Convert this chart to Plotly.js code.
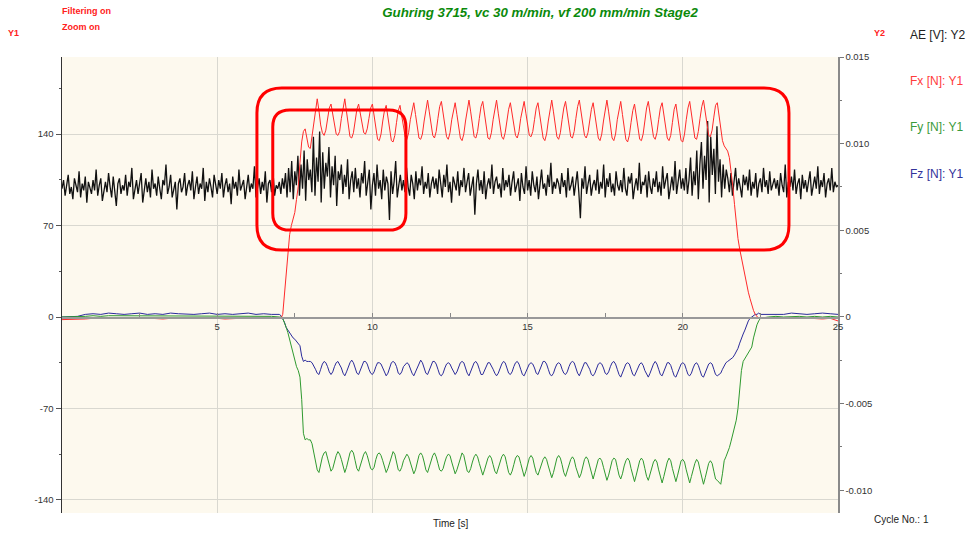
<!DOCTYPE html>
<html><head><meta charset="utf-8">
<script src="https://cdn.plot.ly/plotly-3.0.1.min.js"></script>
<style>html,body{margin:0;padding:0;background:#fff;}#chart{width:972px;height:534px;}</style>
</head><body><div id="chart"></div>
<script>
const titleText = 'Guhring 3715, vc 30 m/min, vf 200 mm/min Stage2';
const seriesNames = ['AE [V]: Y2', 'Fx [N]: Y1', 'Fy [N]: Y1', 'Fz [N]: Y1'];
const seriesColors = ['#111111', '#ff2a2a', '#2f9a2f', '#2b2b9b'];
const xTickVals = [5, 10, 15, 20, 25];
const xTickText = ['5', '10', '15', '20', '25'];
const y1TickVals = [-140, -70, 0, 70, 140];
const y1TickText = ['-140', '-70', '0', '70', '140'];
const y2TickVals = [-0.010, -0.005, 0, 0.005, 0.010, 0.015];
const y2TickText = ['-0.010', '-0.005', '0', '0.005', '0.010', '0.015'];

// sampling of the recorded signals (seconds)
const aeStep = 0.05;
const forceBaseStep = 0.25;
const forceActiveStart = 7.0;
const forceActiveStep = 1 / 18;
const forceTailStart = 22.75;

// AE signal, in units of 0.1 mV (1e-4 V), one value every 0.05 s
const aeTenthMv = [
74,79,70,77,82,71,75,68,80,76,72,84,69,77,73,81,66,78,75,71,
79,73,85,70,76,80,67,74,78,72,83,75,69,81,74,64,77,80,71,76,
73,82,70,78,75,86,68,74,79,71,77,83,66,75,80,72,78,69,85,74,
77,70,81,74,68,79,76,88,71,75,82,69,73,78,62,77,80,72,75,83,
70,76,79,73,84,68,75,81,71,77,74,86,67,78,72,80,75,69,82,76,
71,79,74,83,69,76,80,72,77,65,81,74,78,70,85,73,76,79,68,75,
82,72,77,74,87,69,76,80,71,78,73,84,66,77,79,72,83,70,76,74,
78,71,80,74,83,69,86,72,90,68,84,76,93,70,88,74,96,67,91,79,
85,72,104,70,92,78,107,66,95,74,89,81,98,69,87,76,93,64,84,79,
88,71,82,75,91,68,79,84,72,86,74,80,69,83,77,90,70,78,85,62,
76,83,70,88,74,79,68,85,73,81,77,56,84,71,78,90,69,76,82,73,
79,72,86,75,70,82,77,68,84,73,80,76,87,71,78,74,83,69,77,81,
74,80,71,85,77,69,82,75,88,72,78,66,81,76,73,84,70,79,75,86,
72,78,83,70,76,81,59,77,85,73,79,71,84,68,76,80,74,88,71,78,
81,74,77,69,86,73,79,75,82,70,78,84,72,76,80,67,83,75,71,87,
73,79,70,84,76,72,81,68,78,85,74,77,70,82,75,89,71,78,74,80,
77,71,83,75,79,69,86,73,76,81,70,78,84,72,57,80,74,87,71,77,
82,70,76,79,73,85,71,78,74,88,69,80,75,83,72,77,70,84,76,73,
79,72,86,74,70,81,77,83,68,75,80,73,89,71,78,76,82,69,84,75,
71,80,75,84,72,78,70,87,74,79,83,68,76,81,73,90,71,77,85,74,
80,73,86,71,79,92,70,84,76,96,68,88,101,74,93,79,113,66,104,82,
97,71,110,78,91,69,88,74,85,80,72,83,70,78,86,73,80,75,69,82,
76,81,73,85,70,78,74,83,69,77,80,72,86,75,79,71,84,73,77,80,
74,79,70,83,76,72,88,69,78,75,81,73,85,71,77,80,68,82,74,79,
72,78,84,70,76,81,74,87,71,79,75,83,69,77,80,73,86,72,78,75,
76
];

// Forces [N] before cutting (every 0.25 s from 0 s)
const fxBase = [-2,-2,-2,-1.5,-1,-1,-1.5,-1,-1,-1,-0.5,-1,-1,-1.5,-1,-1,-1,-0.5,-1,-1,-1,-1.5,-1,-1,-1,-0.5,-1,-1];
const fyBase = [0,0,0,0.5,1,0.5,1,1,0.5,1,1,1,0.5,1,1,1,0.5,1,1,1,1,0.5,1,1,1,0.5,1,0.5];
const fzBase = [0,0,0.5,2,2.5,2,3,2.5,2,2.5,3,2,2.5,2,3,2.5,2,2,2.5,3,2,2.5,2,2.5,3,2,2.5,2];

// Forces [N] during cutting (every 1/18 s from 7 s)
const fxActive = [
-1,-1,2,18,35,50,63,70,76,80,90,100,118,134,142,144,137,130,129,138,150,160,
167,158,147,141,139,143,151,160,
163,155,146,140,139,142,152,161,
167,157,145,138,137,141,150,159,
163,156,147,141,140,144,152,160,
163,154,143,136,135,140,150,158,
162,153,142,135,134,139,149,158,
162,154,145,138,136,141,151,159,
164,155,144,137,136,140,150,160,
166,157,146,139,137,142,152,161,
165,156,145,138,136,141,151,159,
164,155,144,137,135,140,150,160,
166,157,146,138,137,142,152,161,
165,155,144,137,136,141,151,160,
166,156,145,138,136,141,150,159,
164,155,145,139,137,142,152,160,
165,156,146,139,138,142,151,160,
164,154,143,137,135,140,150,159,
166,157,146,138,136,141,151,160,
165,156,145,138,137,142,152,161,
166,157,146,139,137,141,150,159,
164,155,144,137,135,140,150,160,
166,157,145,137,135,140,151,160,
165,155,144,136,134,139,149,158,
163,154,143,136,135,140,150,160,
165,156,145,138,136,141,151,160,
164,155,144,137,135,139,149,159,
163,153,142,135,134,140,151,160,
165,155,144,137,136,142,152,161,
166,156,146,139,138,143,153,162,
164,155,145,135,131,129,127,122,112,100,86,72,60,52,45,38,31,25,19,14,9,5,2,0,-1,-1
];
const fyActive = [
0,0,-1,-4,-8,-12,-17,-22,-29,-33,-38,-41,-46,-63,-89,-94,-93,-94,-94,-97,-103,-110,
-117,-119,-113,-107,-104,-103,-108,-114,
-118,-116,-110,-106,-103,-105,-109,-115,
-119,-115,-109,-104,-102,-104,-110,-116,
-118,-114,-110,-105,-103,-106,-111,-116,
-117,-115,-109,-105,-104,-106,-110,-115,
-119,-116,-111,-106,-103,-105,-111,-117,
-118,-115,-110,-107,-105,-107,-112,-116,
-120,-117,-111,-106,-104,-106,-111,-117,
-119,-115,-110,-106,-104,-107,-112,-117,
-118,-116,-111,-107,-105,-106,-111,-116,
-120,-117,-112,-107,-104,-106,-112,-118,
-119,-116,-111,-107,-105,-107,-112,-117,
-121,-117,-112,-108,-106,-108,-113,-118,
-120,-116,-111,-107,-105,-107,-113,-119,
-121,-118,-113,-108,-106,-107,-112,-118,
-122,-118,-112,-108,-106,-108,-114,-119,
-121,-117,-112,-109,-107,-109,-114,-119,
-123,-119,-113,-108,-106,-108,-113,-119,
-122,-118,-113,-109,-107,-109,-115,-120,
-123,-120,-114,-109,-107,-109,-114,-120,
-124,-119,-113,-109,-108,-110,-115,-121,
-125,-121,-115,-110,-108,-109,-115,-121,
-124,-120,-114,-110,-108,-110,-116,-122,
-126,-121,-115,-110,-108,-110,-116,-122,
-125,-120,-114,-111,-109,-111,-117,-123,
-127,-122,-116,-111,-108,-110,-116,-122,
-126,-121,-115,-110,-109,-111,-117,-123,
-127,-122,-116,-112,-109,-111,-117,-124,
-128,-123,-117,-112,-110,-112,-118,-124,
-125,-127,-128,-120,-110,-107,-104,-100,-95,-90,-85,-79,-70,-54,-41,-34,-32,-30,-28,-26,-23,-16,-10,-6,-3,-1
];
const fzActive = [
2,1,-1,-4,-8,-10,-12,-14,-16,-17,-19,-21,-22,-30,-34,-33,-34,-34,-34,-35,-37,-40,
-43,-44,-40,-36,-34,-35,-38,-42,
-44,-42,-38,-35,-34,-36,-39,-43,
-45,-42,-38,-35,-33,-35,-39,-43,
-44,-41,-37,-34,-34,-36,-40,-43,
-44,-42,-38,-35,-35,-36,-39,-42,
-45,-43,-39,-35,-34,-35,-38,-43,
-44,-42,-38,-36,-35,-36,-40,-43,
-45,-42,-38,-35,-33,-35,-39,-43,
-44,-41,-37,-34,-34,-36,-40,-44,
-45,-43,-39,-36,-35,-36,-39,-42,
-44,-42,-38,-35,-34,-35,-39,-43,
-45,-42,-38,-35,-34,-36,-40,-44,
-44,-41,-37,-35,-35,-37,-40,-43,
-45,-43,-39,-36,-34,-35,-39,-43,
-44,-42,-38,-35,-34,-36,-40,-44,
-45,-42,-38,-36,-35,-36,-39,-43,
-44,-41,-37,-34,-34,-36,-40,-44,
-45,-43,-39,-36,-35,-36,-40,-43,
-44,-42,-38,-35,-34,-35,-39,-43,
-45,-42,-38,-35,-35,-37,-40,-44,
-45,-43,-39,-36,-35,-36,-39,-43,
-44,-42,-38,-35,-34,-36,-40,-44,
-46,-43,-39,-36,-35,-36,-40,-44,
-45,-42,-38,-36,-35,-37,-41,-44,
-46,-43,-39,-36,-34,-36,-40,-44,
-45,-42,-38,-35,-35,-37,-41,-45,
-46,-43,-39,-36,-35,-36,-40,-44,
-45,-43,-39,-36,-35,-37,-41,-45,
-46,-43,-39,-36,-35,-36,-40,-44,
-45,-44,-43,-40,-37,-35,-34,-33,-32,-31,-29,-27,-24,-20,-16,-13,-10,-6,-3,-1,0,1,2,2,3,2
];

// Forces [N] after cutting (every 0.25 s from 22.75 s)
const fxTail = [-1,-1,-1.5,-1,-0.5,-1,-1,-1.5,-1,-3];
const fyTail = [0,0.5,0,0.5,0.5,0,0.5,0,0.5,0];
const fzTail = [2,2.5,2,3,2.5,2,2.5,3,2.5,2];

// ---- build traces ----
const aeTime = aeTenthMv.map((_, i) => i * aeStep);
const aeVolts = aeTenthMv.map(v => v * 1e-4);
const baseTime = fxBase.map((_, i) => i * forceBaseStep);
const activeTime = fxActive.map((_, k) => forceActiveStart + k * forceActiveStep);
const tailTime = fxTail.map((_, i) => forceTailStart + i * forceBaseStep);
const forceTime = baseTime.concat(activeTime, tailTime);
const fx = fxBase.concat(fxActive, fxTail);
const fy = fyBase.concat(fyActive, fyTail);
const fz = fzBase.concat(fzActive, fzTail);

const traces = [
  {x: aeTime, y: aeVolts, name: seriesNames[0], type: 'scatter', mode: 'lines', xaxis: 'x', yaxis: 'y',
   line: {color: seriesColors[0], width: 1.3}},
  {x: forceTime, y: fz, name: seriesNames[3], type: 'scatter', mode: 'lines', xaxis: 'x', yaxis: 'y2',
   line: {color: seriesColors[3], width: 1}},
  {x: forceTime, y: fy, name: seriesNames[2], type: 'scatter', mode: 'lines', xaxis: 'x', yaxis: 'y2',
   line: {color: seriesColors[2], width: 1}},
  {x: forceTime, y: fx, name: seriesNames[1], type: 'scatter', mode: 'lines', xaxis: 'x', yaxis: 'y2',
   line: {color: seriesColors[1], width: 1}}
];

// layout helpers (pixel -> paper)
const L = 62, R = 838, T = 57, B = 513;
const px = x => (x - L) / (R - L);
const py = y => (B - y) / (B - T);
const y1Range = [-150, 199];
const y2Range = [-0.01131, 0.015];

function roundRect(x0, x1, y0, y1, rx, ry) {
  return `M ${x0 + rx},${y1} L ${x1 - rx},${y1} Q ${x1},${y1} ${x1},${y1 - ry} L ${x1},${y0 + ry} ` +
         `Q ${x1},${y0} ${x1 - rx},${y0} L ${x0 + rx},${y0} Q ${x0},${y0} ${x0},${y0 + ry} ` +
         `L ${x0},${y1 - ry} Q ${x0},${y1} ${x0 + rx},${y1} Z`;
}

const tickFont = {family: 'Arial, Liberation Sans, sans-serif', size: 9.5, color: '#333'};
const note = (text, x, y, color, size, anchor, bold) => ({
  text: bold ? '<b>' + text + '</b>' : text, xref: 'paper', yref: 'paper', x: x, y: y,
  xanchor: anchor || 'left', yanchor: 'middle', showarrow: false,
  font: {family: 'Arial, Liberation Sans, sans-serif', size: size, color: color}
});

const layout = {
  width: 972, height: 534,
  margin: {l: L, r: 972 - R, t: T, b: 534 - B, pad: 0},
  paper_bgcolor: '#ffffff', plot_bgcolor: '#fdf9ee',
  showlegend: false,
  font: {family: 'Arial, Liberation Sans, sans-serif'},
  title: {text: '<b><i>' + titleText + '</i></b>', x: 540 / 972, xref: 'container', xanchor: 'center',
          y: 1 - 12 / 534, yref: 'container', yanchor: 'middle',
          font: {family: 'Arial, Liberation Sans, sans-serif', size: 13.3, color: '#0b8a0b'}},
  xaxis: {range: [0, 25], anchor: 'free', position: py(317), side: 'bottom',
          tickmode: 'array', tickvals: xTickVals, ticktext: xTickText,
          ticks: 'inside', ticklen: 0, tickfont: tickFont,
          showline: true, linecolor: '#999', linewidth: 1.5,
          showgrid: true, gridcolor: '#d9d8d0', gridwidth: 1, zeroline: false,
          minor: {tick0: 0, dtick: 2.5, ticks: 'inside', ticklen: 4, tickcolor: '#888', showgrid: false}},
  yaxis: {range: y2Range, side: 'right', anchor: 'x',
          tickmode: 'array', tickvals: y2TickVals, ticktext: y2TickText,
          ticks: 'outside', ticklen: 4, tickcolor: '#777', tickfont: tickFont,
          showline: true, linecolor: '#8a8a8a', linewidth: 1.5,
          showgrid: false, zeroline: false,
          minor: {tick0: 0, dtick: 0.0025, ticks: 'outside', ticklen: 2, tickcolor: '#777'}},
  yaxis2: {range: y1Range, side: 'left', overlaying: 'y', anchor: 'x',
           tickmode: 'array', tickvals: y1TickVals, ticktext: y1TickText,
           ticks: 'outside', ticklen: 5, tickcolor: '#555', tickfont: tickFont,
           showline: true, linecolor: '#333', linewidth: 1.5,
           showgrid: true, gridcolor: '#d9d8d0', gridwidth: 1, zeroline: false,
           minor: {tick0: 0, dtick: 35, ticks: 'outside', ticklen: 2, tickcolor: '#555', showgrid: false}},
  shapes: [
    {type: 'path', xref: 'x', yref: 'y2', layer: 'above',
     path: roundRect(6.28, 23.42, 51.3, 175.2, 0.8, 19), line: {color: '#ff0000', width: 3}},
    {type: 'path', xref: 'x', yref: 'y2', layer: 'above',
     path: roundRect(6.79, 11.08, 66.5, 158.4, 0.55, 13), line: {color: '#ff0000', width: 3}}
  ],
  annotations: [
    note('Filtering on', px(60), py(11), '#ff2020', 9, 'left', true),
    note('Zoom on', px(60), py(27.5), '#ff2020', 9, 'left', true),
    note('Y1', px(6), py(33), '#ff2020', 9, 'left', true),
    note('Y2', px(872), py(33), '#ff2020', 9, 'left', true),
    note(seriesNames[0], px(908), py(35), '#222222', 12),
    note(seriesNames[1], px(908), py(81.5), '#ff3c3c', 12),
    note(seriesNames[2], px(908), py(127.5), '#3a9a3a', 12),
    note(seriesNames[3], px(908), py(173.5), '#33339a', 12),
    note('Time [s]', px(450), py(523), '#222222', 10, 'center'),
    note('Cycle No.: 1', px(872), py(519), '#222222', 10)
  ]
};

Plotly.newPlot('chart', traces, layout, {displayModeBar: false, staticPlot: true});
</script>
</body></html>
